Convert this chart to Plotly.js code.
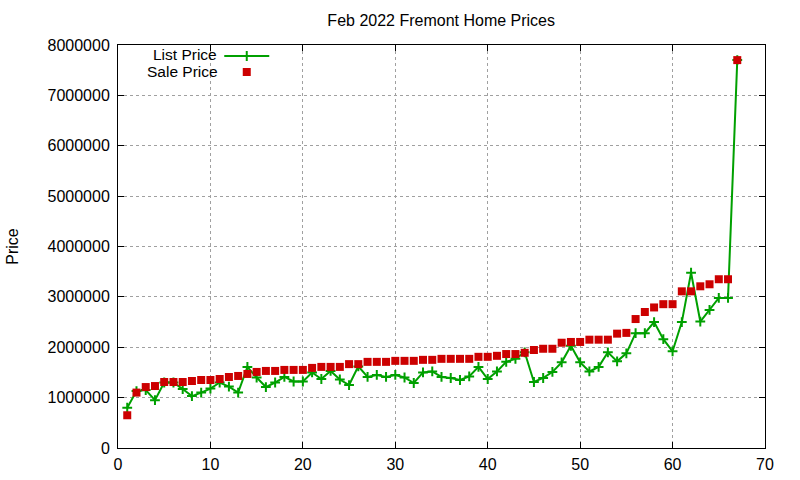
<!DOCTYPE html>
<html>
<head>
<meta charset="utf-8">
<script src="https://cdn.plot.ly/plotly-3.0.1.min.js"></script>
<style>
  html, body { margin: 0; padding: 0; background: #ffffff; }
  #chart { width: 800px; height: 480px; }
</style>
</head>
<body>
<div id="chart"></div>
<script>
// Home index (1..67), one entry per sold home, sorted by sale price
const homeIndex = [];
for (let i = 1; i <= 67; i++) homeIndex.push(i);

const listPrice = [
  800000, 1130000, 1150000, 950000, 1300000, 1300000, 1170000, 1030000, 1100000, 1180000,
  1300000, 1220000, 1100000, 1610000, 1400000, 1210000, 1300000, 1410000, 1320000, 1320000,
  1500000, 1370000, 1530000, 1360000, 1250000, 1620000, 1410000, 1450000, 1410000, 1450000,
  1400000, 1290000, 1500000, 1520000, 1410000, 1390000, 1350000, 1420000, 1610000, 1370000,
  1520000, 1710000, 1770000, 1900000, 1310000, 1390000, 1510000, 1700000, 2030000, 1700000,
  1520000, 1610000, 1900000, 1720000, 1880000, 2280000, 2280000, 2500000, 2160000, 1920000,
  2500000, 3480000, 2510000, 2740000, 2980000, 2980000, 7700000
];

const salePrice = [
  650000, 1100000, 1210000, 1230000, 1310000, 1310000, 1310000, 1330000, 1350000, 1350000,
  1370000, 1410000, 1430000, 1470000, 1510000, 1530000, 1530000, 1550000, 1550000, 1550000,
  1590000, 1610000, 1610000, 1610000, 1665000, 1665000, 1710000, 1710000, 1710000, 1730000,
  1730000, 1730000, 1750000, 1750000, 1770000, 1770000, 1770000, 1770000, 1810000, 1810000,
  1830000, 1865000, 1865000, 1890000, 1945000, 1970000, 1970000, 2090000, 2105000, 2105000,
  2150000, 2150000, 2150000, 2270000, 2285000, 2560000, 2700000, 2790000, 2855000, 2855000,
  3110000, 3110000, 3210000, 3250000, 3350000, 3350000, 7700000
];

const seriesNames = ['List Price', 'Sale Price'];
const chartTitle = 'Feb 2022 Fremont Home Prices';
const yLabel = 'Price';

const green = '#00a000';
const red = '#cc0000';
const font = 'Liberation Sans, Arial, sans-serif';

const data = [
  {
    type: 'scatter',
    mode: 'lines+markers',
    x: homeIndex,
    y: listPrice,
    name: '',
    legend: 'legend',
    line: { color: green, width: 2 },
    marker: { symbol: 'cross-thin', size: 7, color: green, line: { color: green, width: 2 } },
    hoverinfo: 'x+y'
  },
  {
    type: 'scatter',
    mode: 'markers',
    x: homeIndex,
    y: salePrice,
    name: '',
    legend: 'legend2',
    marker: { symbol: 'square', size: 8, color: red },
    hoverinfo: 'x+y'
  }
];

const axisCommon = {
  showline: true,
  linecolor: '#000000',
  linewidth: 1,
  mirror: 'ticks',
  ticks: 'inside',
  ticklen: 6,
  tickcolor: '#000000',
  showgrid: true,
  gridcolor: '#a0a0a0',
  griddash: 'dot',
  gridwidth: 1,
  zeroline: false,
  tickfont: { family: font, size: 16, color: '#000000' }
};

// gnuplot-style key: symbol sample to the right of the text
const keyCommon = {
  x: 0.1565, xanchor: 'left',
  yanchor: 'middle',
  bgcolor: 'rgba(0,0,0,0)',
  borderwidth: 0,
  font: { family: font, size: 10, color: '#000000' },
  itemwidth: 45
};

const layout = {
  width: 800,
  height: 480,
  margin: { l: 118, r: 35, t: 45, b: 32 },
  paper_bgcolor: '#ffffff',
  plot_bgcolor: '#ffffff',
  title: {
    text: chartTitle,
    font: { family: font, size: 16, color: '#000000' },
    x: 0.5515, xanchor: 'center',
    y: 0.958, yanchor: 'middle'
  },
  xaxis: Object.assign({}, axisCommon, {
    range: [0, 70],
    dtick: 10,
    tick0: 0,
    ticklabelstandoff: 2
  }),
  yaxis: Object.assign({}, axisCommon, {
    range: [0, 8000000],
    dtick: 1000000,
    tick0: 0,
    tickformat: 'd',
    ticklabelstandoff: 4,
    title: { text: yLabel, font: { family: font, size: 16, color: '#000000' }, standoff: 24 }
  }),
  showlegend: true,
  legend: Object.assign({}, keyCommon, { y: 0.9727 }),
  legend2: Object.assign({}, keyCommon, { y: 0.933 }),
  annotations: [
    {
      xref: 'paper', yref: 'paper',
      x: 0.156, y: 0.9765, xanchor: 'right', yanchor: 'middle',
      text: seriesNames[0], showarrow: false,
      font: { family: font, size: 15.5, color: '#000000' }
    },
    {
      xref: 'paper', yref: 'paper',
      x: 0.1576, y: 0.9345, xanchor: 'right', yanchor: 'middle',
      text: seriesNames[1], showarrow: false,
      font: { family: font, size: 15.5, color: '#000000' }
    }
  ]
};

Plotly.newPlot('chart', data, layout, { displayModeBar: false, staticPlot: true });
</script>
</body>
</html>
